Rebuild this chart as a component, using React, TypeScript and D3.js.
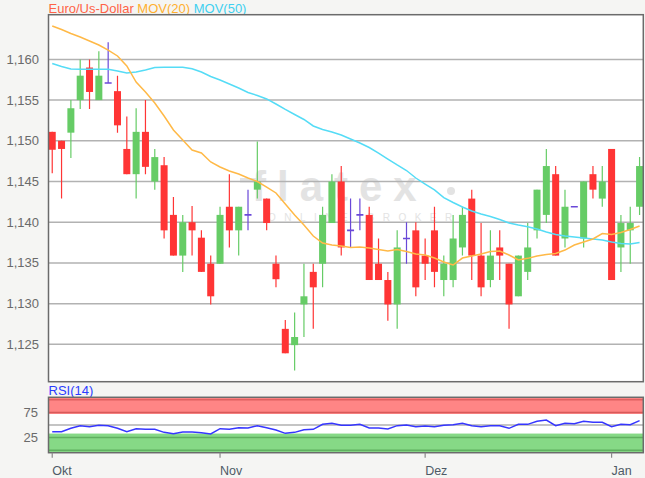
import React from "react";
import * as d3 from "d3";

// ---------- data ----------
const tickIndex = [0, 18, 40, 60];
const tickLabels = ["Okt", "Nov", "Dez", "Jan"];
const priceTicks = [1.125, 1.13, 1.135, 1.14, 1.145, 1.15, 1.155, 1.16];
const priceTickLabels = ["1,125", "1,130", "1,135", "1,140", "1,145", "1,150", "1,155", "1,160"];
const rsiTicks = [25, 75];

const open = [
  1.1511, 1.15, 1.151, 1.155, 1.159, 1.155, 1.1571, 1.1561, 1.149, 1.1459,
  1.1511, 1.145, 1.147, 1.1409, 1.1359, 1.14, 1.1381, 1.1349, 1.1349, 1.1419,
  1.139, 1.1409, 1.144, 1.1429, 1.1349, 1.1269, 1.1249, 1.1299, 1.1339, 1.1349,
  1.1399, 1.145, 1.139, 1.1409, 1.1409, 1.1349, 1.1329, 1.1299, 1.138, 1.139,
  1.1359, 1.139, 1.1329, 1.1329, 1.1369, 1.1429, 1.1359, 1.1329, 1.1369, 1.1349,
  1.1309, 1.1339, 1.139, 1.1409, 1.1459, 1.138, 1.1419, 1.138, 1.1459, 1.1429,
  1.149, 1.1369, 1.139, 1.1419,
];
const high = [
  1.1511, 1.15, 1.155, 1.16, 1.16, 1.161, 1.1621, 1.158, 1.153, 1.154,
  1.155, 1.149, 1.148, 1.1431, 1.1409, 1.142, 1.139, 1.1359, 1.1419, 1.1459,
  1.1419, 1.144, 1.1499, 1.1429, 1.1359, 1.128, 1.1289, 1.1349, 1.1349, 1.1419,
  1.1459, 1.1469, 1.1429, 1.1429, 1.1419, 1.138, 1.1339, 1.139, 1.14, 1.14,
  1.138, 1.1419, 1.1359, 1.1409, 1.1419, 1.144, 1.1399, 1.139, 1.139, 1.1349,
  1.1359, 1.1399, 1.144, 1.149, 1.1469, 1.144, 1.1419, 1.145, 1.1469, 1.1469,
  1.149, 1.1409, 1.1419, 1.148,
];
const low = [
  1.146, 1.1429, 1.1479, 1.1539, 1.1539, 1.155, 1.1571, 1.151, 1.1459, 1.1429,
  1.1459, 1.144, 1.138, 1.1359, 1.1339, 1.1359, 1.1339, 1.1299, 1.1349, 1.1369,
  1.1359, 1.139, 1.1429, 1.139, 1.132, 1.1239, 1.1218, 1.1259, 1.1269, 1.132,
  1.1399, 1.1359, 1.1369, 1.139, 1.1329, 1.1329, 1.1279, 1.1269, 1.1349, 1.1309,
  1.1329, 1.132, 1.1309, 1.132, 1.1359, 1.1329, 1.1309, 1.132, 1.1329, 1.1269,
  1.1309, 1.1329, 1.138, 1.1399, 1.1359, 1.1369, 1.1419, 1.1369, 1.1429, 1.1419,
  1.1329, 1.1339, 1.1349, 1.1409,
];
const close = [
  1.1489, 1.149, 1.154, 1.158, 1.156, 1.158, 1.1571, 1.1519, 1.1459, 1.1511,
  1.1468, 1.148, 1.139, 1.1359, 1.14, 1.139, 1.1339, 1.1309, 1.1409, 1.139,
  1.1419, 1.1409, 1.145, 1.1399, 1.133, 1.1239, 1.1259, 1.1309, 1.132, 1.1409,
  1.145, 1.1369, 1.139, 1.1409, 1.1329, 1.1329, 1.1299, 1.1369, 1.138, 1.132,
  1.1349, 1.1339, 1.1349, 1.138, 1.1409, 1.1359, 1.132, 1.1359, 1.1359, 1.1299,
  1.1359, 1.1369, 1.144, 1.1469, 1.1359, 1.1419, 1.1419, 1.145, 1.144, 1.145,
  1.1329, 1.1399, 1.1399, 1.1469,
];
const mov20 = [
  1.1641, 1.16367, 1.16318, 1.16275, 1.16226, 1.16177, 1.16115, 1.16042, 1.15919, 1.15722,
  1.156, 1.15464, 1.15305, 1.15133, 1.1501, 1.14887, 1.1485, 1.1474, 1.14678, 1.14629,
  1.14592, 1.14543, 1.145, 1.14432, 1.14359, 1.14224, 1.14088, 1.13966, 1.1383, 1.13744,
  1.1372, 1.13708, 1.1369, 1.13695, 1.13683, 1.13665, 1.13646, 1.13665, 1.1364, 1.13609,
  1.13597, 1.1356, 1.13511, 1.13474, 1.1356, 1.13585, 1.13609, 1.1364, 1.13646, 1.13597,
  1.13536, 1.13556, 1.13585, 1.13603, 1.13615, 1.13658, 1.1372, 1.13757, 1.13794, 1.13861,
  1.13849, 1.13874, 1.1391, 1.13953,
];
const mov50 = [
  1.1595, 1.15913, 1.15882, 1.15878, 1.15878, 1.15878, 1.15878, 1.15857, 1.15833, 1.15845,
  1.1587, 1.159, 1.15903, 1.15903, 1.15903, 1.15886, 1.15845, 1.1579, 1.15747, 1.15698,
  1.15649, 1.15593, 1.15557, 1.15514, 1.15452, 1.15385, 1.15323, 1.15262, 1.15182, 1.15139,
  1.15108, 1.15071, 1.15022, 1.14973, 1.14918, 1.1485, 1.14776, 1.14703, 1.14635, 1.14543,
  1.14469, 1.14396, 1.14303, 1.14242, 1.14187, 1.14138, 1.14101, 1.1407, 1.14033, 1.1399,
  1.13966, 1.13945, 1.13916, 1.1388, 1.13849, 1.1383, 1.13818, 1.13806, 1.13794, 1.13781,
  1.13757, 1.13738, 1.13732, 1.13751,
];
const rsi = [
  36.7, 36.7, 43.4, 48.7, 46.7, 49.3, 48.7, 43.4, 36.7, 42.7,
  41.4, 41.4, 35.4, 32.7, 36.1, 36.1, 34.8, 32.1, 42.7, 41.4,
  44.7, 44.0, 48.7, 44.7, 40.0, 33.4, 35.4, 40.7, 41.4, 51.3,
  53.3, 49.3, 49.3, 51.3, 44.0, 44.0, 42.0, 48.7, 50.0, 46.7,
  48.0, 46.7, 49.3, 50.7, 53.3, 48.7, 46.7, 48.7, 48.7, 43.4,
  51.3, 51.3, 57.3, 59.9, 48.7, 53.3, 52.6, 57.3, 55.3, 55.3,
  46.7, 51.3, 50.7, 58.6,
];

// ---------- layout ----------
const W = 645;
const H = 478;
const PL = 48.5;
const PR = 643.3;
const PT = 14.7;
const PB = 381.7;
const RT = 397.3;
const RB = 452.7;
const FONT = "'Liberation Sans', Arial, sans-serif";

const RED = "#ff3535";
const GREEN = "#66cc66";
const DOJI = "#6a48d8";

export default function App() {
  const n = close.length;
  const idx = d3.range(n);
  const x = d3.scaleLinear().domain([-0.4, 63.4]).range([PL, PR]);
  const y = d3.scaleLinear().domain([1.12041, 1.16549]).range([PB, PT]);
  const yr = d3.scaleLinear().domain([-5, 105]).range([RB, RT]);

  const line20 = d3.line<number>().x((i) => x(i)).y((i) => y(mov20[i])).curve(d3.curveLinear);
  const line50 = d3.line<number>().x((i) => x(i)).y((i) => y(mov50[i])).curve(d3.curveLinear);
  const lineRsi = d3.line<number>().x((i) => x(i)).y((i) => yr(rsi[i]));
  const bw = 7;

  return (
    <div style={{ position: "absolute", left: 0, top: 0, width: W, height: H }}>
      <svg width={W} height={H} style={{ display: "block", fontFamily: FONT }}>
        <defs>
          <clipPath id="plotClip">
            <rect x={PL} y={PT} width={PR - PL} height={PB - PT} />
          </clipPath>
          <clipPath id="rsiClip">
            <rect x={PL} y={RT} width={PR - PL} height={RB - RT} />
          </clipPath>
        </defs>
        <rect x={0} y={0} width={W} height={H} fill="#f5f5f3" />

        {/* legend */}
        <text x={PL} y={12.5} fontSize={13}>
          <tspan fill="#ff6347">Euro/Us-Dollar</tspan>
          <tspan fill="#ffb030"> MOV(20)</tspan>
          <tspan fill="#3fd0f0"> MOV(50)</tspan>
        </text>

        {/* main plot */}
        <rect x={PL} y={PT} width={PR - PL} height={PB - PT} fill="#ffffff" />
        <g fill="#e3e3e3" fontFamily={FONT}>
          <rect x={240} y={178} width={14} height={4.5} />
          <text x={252} y={201} fontSize={42} fontWeight={700} letterSpacing={11}>flatex</text>
          <circle cx={451} cy={191} r={4} />
          <text x={268} y={221} fontSize={10} letterSpacing={8.5}>ONLINE BROKER</text>
        </g>
        {priceTicks.map((v, k) => (
          <g key={v}>
            <line x1={PL} x2={PR} y1={y(v)} y2={y(v)} stroke="#b2b2b2" strokeWidth={1.5} />
            <text x={39} y={y(v)} dy="0.35em" textAnchor="end" fontSize={13} fill="#6a6a6a">
              {priceTickLabels[k]}
            </text>
          </g>
        ))}
        <g clipPath="url(#plotClip)">
          {idx.map((i) => {
            const o = open[i], c = close[i];
            const col = o === c ? DOJI : c > o ? GREEN : RED;
            const top = y(Math.max(o, c));
            const bot = y(Math.min(o, c));
            const cx = x(i);
            return (
              <g key={i}>
                <line x1={cx} x2={cx} y1={y(high[i])} y2={y(low[i])} stroke={col} strokeWidth={1.2} />
                {o === c ? (
                  <line x1={cx - bw / 2} x2={cx + bw / 2} y1={top} y2={top} stroke={col} strokeWidth={1.6} />
                ) : (
                  <rect x={cx - bw / 2} y={top} width={bw} height={Math.max(1, bot - top)} fill={col} />
                )}
              </g>
            );
          })}
          <path d={line50(idx) || ""} fill="none" stroke="#55dcf6" strokeWidth={1.5} />
          <path d={line20(idx) || ""} fill="none" stroke="#ffb947" strokeWidth={1.5} />
        </g>
        <rect x={PL} y={PT} width={PR - PL} height={PB - PT} fill="none" stroke="#6b6b6b" strokeWidth={1.5} />

        {/* RSI panel */}
        <text x={PL} y={395} fontSize={13} fill="#2b3cff">RSI(14)</text>
        <rect x={PL} y={RT} width={PR - PL} height={RB - RT} fill="#ffffff" />
        <rect x={PL} y={RT} width={PR - PL} height={yr(72) - RT} fill="#ff8585" />
        <rect x={PL} y={yr(33)} width={PR - PL} height={RB - yr(33)} fill="#86d986" />
        <line x1={PL} x2={PR} y1={yr(100)} y2={yr(100)} stroke="#e06060" strokeWidth={1.5} />
        <line x1={PL} x2={PR} y1={yr(75)} y2={yr(75)} stroke="#d85a5a" strokeWidth={1.5} />
        <line x1={PL} x2={PR} y1={yr(50)} y2={yr(50)} stroke="#b0b0b0" strokeWidth={1.5} />
        <line x1={PL} x2={PR} y1={yr(25)} y2={yr(25)} stroke="#5fb05f" strokeWidth={1.5} />
        <line x1={PL} x2={PR} y1={yr(0)} y2={yr(0)} stroke="#5fb05f" strokeWidth={1.5} />
        {rsiTicks.map((v) => (
          <text key={v} x={38} y={yr(v)} dy="0.35em" textAnchor="end" fontSize={13} fill="#6a6a6a">
            {v}
          </text>
        ))}
        <g clipPath="url(#rsiClip)">
          <path d={lineRsi(idx) || ""} fill="none" stroke="#3636ff" strokeWidth={1.5} />
        </g>
        <rect x={PL} y={RT} width={PR - PL} height={RB - RT} fill="none" stroke="#6b6b6b" strokeWidth={1.5} />

        {/* x axis */}
        {tickIndex.map((ti, k) => (
          <g key={ti}>
            <line x1={x(ti)} x2={x(ti)} y1={RB} y2={RB + 5} stroke="#8a8a8a" strokeWidth={1.2} />
            <text x={x(ti)} y={474.5} fontSize={12.5} fill="#4e5a66">
              {tickLabels[k]}
            </text>
          </g>
        ))}
      </svg>
    </div>
  );
}
